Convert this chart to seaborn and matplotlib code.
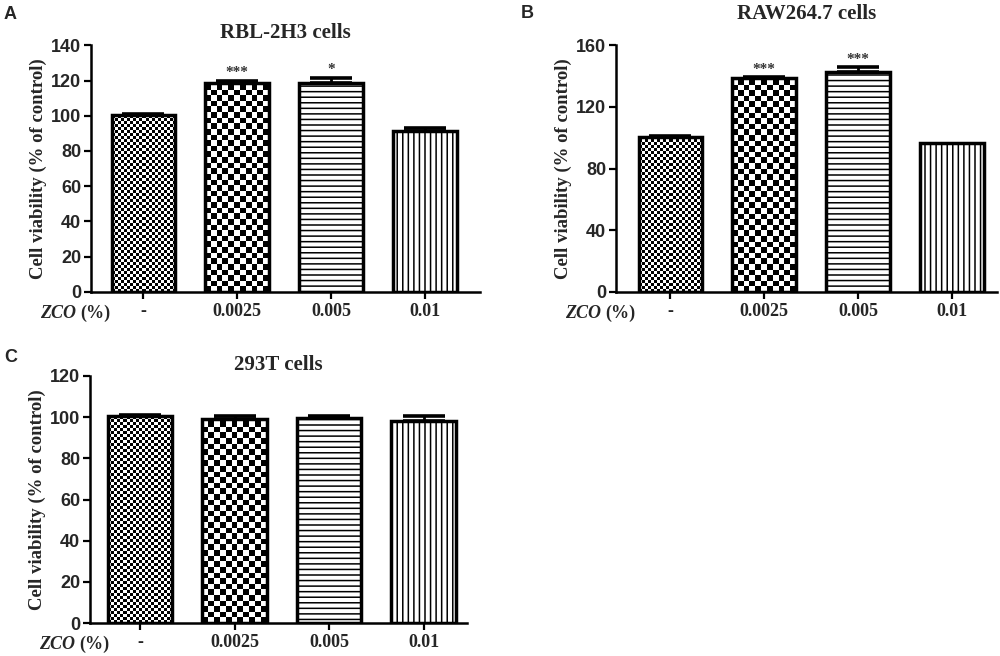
import numpy as np
import pandas as pd
import matplotlib
matplotlib.use("Agg")
import matplotlib.pyplot as plt
import seaborn as sns

# ---- data ----
doses = ["-", "0.0025", "0.005", "0.01"]

rbl_mean = [100.5, 118.5, 118.5, 91.2]
rbl_err = [0.6, 1.5, 3.0, 1.8]
rbl_stars = ["", "***", "*", ""]

raw_mean = [100.5, 138.5, 142.8, 96.8]
raw_err = [0.6, 0.8, 2.8, 0.0]
raw_stars = ["", "***", "***", ""]

t293_mean = [100.3, 99.3, 99.4, 98.0]
t293_err = [0.6, 1.4, 1.3, 2.4]
t293_stars = ["", "", "", ""]

panels = [
    ("A", "RBL-2H3 cells", rbl_mean, rbl_err, rbl_stars, 140, [0, 20, 40, 60, 80, 100, 120, 140]),
    ("B", "RAW264.7 cells", raw_mean, raw_err, raw_stars, 160, [0, 40, 80, 120, 160]),
    ("C", "293T cells", t293_mean, t293_err, t293_stars, 120, [0, 20, 40, 60, 80, 100, 120]),
]

sns.set_style("ticks")
plt.rcParams["hatch.linewidth"] = 1.1
plt.rcParams["hatch.color"] = "black"

SERIF = "Liberation Serif"
SANS = "Liberation Sans"

fig = plt.figure(figsize=(10, 6.56), dpi=100)
# axes rectangles in figure fractions (left, bottom, width, height)
rects = {
    "A": [0.091, 0.555, 0.389, 0.376],
    "B": [0.616, 0.555, 0.381, 0.376],
    "C": [0.090, 0.050, 0.377, 0.377],
}
xlims = {"A": (-0.56, 3.59), "B": (-0.58, 3.48), "C": (-0.53, 3.46)}
title_pad = {"A": 5, "B": 19, "C": 4}
letter_pos = {"A": (0.004, 0.978), "B": (0.521, 0.980), "C": (0.004, 0.455)}


def checker_fill(ax, patch, cell_px, fig):
    # paint a black/white checkerboard inside a bar, clipped to it
    x0, w, h = patch.get_x(), patch.get_width(), patch.get_height()
    pos = ax.get_position()
    xl = ax.get_xlim()
    yl = ax.get_ylim()
    px_x = pos.width * fig.get_figwidth() * fig.dpi / (xl[1] - xl[0])
    px_y = pos.height * fig.get_figheight() * fig.dpi / (yl[1] - yl[0])
    nx = max(int(round(w * px_x / cell_px)), 1)
    ny = max(int(round(h * px_y / cell_px)), 1)
    ii, jj = np.indices((ny, nx))
    board = ((ii + jj) % 2).astype(float)
    im = ax.imshow(board, cmap="gray", vmin=0, vmax=1, interpolation="nearest",
                   extent=(x0, x0 + w, 0, ny * cell_px / px_y), origin="lower",
                   aspect="auto", zorder=patch.get_zorder() - 0.1)
    im.set_clip_path(patch)


for key, title, means, errs, stars, ymax, yticks in panels:
    ax = fig.add_axes(rects[key])
    df = pd.DataFrame({"dose": doses, "viability": means})
    sns.barplot(data=df, x="dose", y="viability", order=doses, color="white",
                edgecolor="black", linewidth=2.5, width=0.68, errorbar=None, ax=ax)
    ax.set_xlim(*xlims[key])
    ax.set_ylim(0, ymax)

    bars = ax.patches[:4]
    for b in bars:
        b.set_zorder(3)
        b.set_facecolor("none")
    bars[2].set_hatch("---")
    bars[3].set_hatch("|||")
    checker_fill(ax, bars[0], 3.0, fig)
    checker_fill(ax, bars[1], 5.6, fig)

    xs = np.arange(len(doses))
    for x, m, e, s in zip(xs, means, errs, stars):
        if e > 0:
            ax.errorbar([x], [m], yerr=[[0], [e]], fmt="none", ecolor="black",
                        elinewidth=2.0, capsize=15, capthick=2.6, zorder=4)
        if s:
            ax.annotate(s, xy=(x, m + e), xytext=(0, 1), textcoords="offset points",
                        ha="center", va="bottom", fontsize=11, fontweight="bold",
                        family=SERIF, color="#333333")

    ax.set_yticks(yticks)
    ax.set_xticks(xs)
    ax.set_xticklabels(doses)
    for lab in ax.get_yticklabels():
        lab.set_fontfamily(SANS)
        lab.set_fontweight("bold")
        lab.set_fontsize(13)
    for lab in ax.get_xticklabels():
        lab.set_fontfamily(SERIF)
        lab.set_fontweight("bold")
        lab.set_fontsize(13)
    ax.tick_params(axis="both", width=1.6, length=5, color="black", pad=2)
    ax.tick_params(axis="x", pad=3)
    for sp in ["left", "bottom"]:
        ax.spines[sp].set_linewidth(1.8)
        ax.spines[sp].set_color("black")
    sns.despine(ax=ax)

    ax.set_xlabel("")
    ax.set_ylabel("Cell viability (% of control)", family=SERIF, fontweight="bold",
                  fontsize=13.5, labelpad=3)
    ax.set_title(title, family=SERIF, fontweight="bold", fontsize=15, pad=title_pad[key])

    # "ZCO (%)" row label on the tick label baseline
    zco = ax.annotate("ZCO", xy=(0, 0), xycoords="axes fraction", xytext=(-37, -18.5),
                      textcoords="offset points", ha="left", va="baseline", fontsize=13,
                      fontweight="bold", fontstyle="italic", family=SERIF)
    ax.annotate("(%)", xy=(1, 0), xycoords=zco, xytext=(3, 0),
                textcoords="offset points", ha="left", va="bottom", fontsize=13,
                fontweight="bold", family=SERIF)

    fig.text(letter_pos[key][0], letter_pos[key][1], key, family=SANS,
             fontweight="bold", fontsize=13, ha="left", va="center")

fig.savefig("out.png", dpi=100)
